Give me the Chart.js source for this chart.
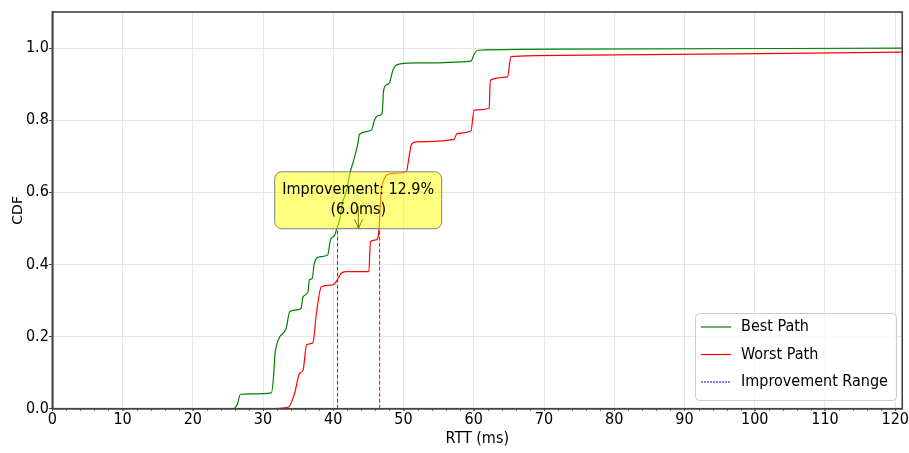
<!DOCTYPE html>
<html>
<head>
<meta charset="utf-8">
<script src="https://cdn.jsdelivr.net/npm/chart.js@4.4.1/dist/chart.umd.min.js"></script>
<style>
html, body { margin: 0; padding: 0; background: #fff; }
#wrap { width: 909px; height: 453px; }
</style>
</head>
<body>
<div id="wrap"><canvas id="grafico"></canvas></div>
<script>
// valores
const bestX = [25.9, 26.3, 26.8, 31.2, 31.5, 31.7, 32.0, 32.4, 33.3, 33.8, 35.4, 35.7, 36.4, 36.6, 37.0, 37.3, 38.05, 39.2, 39.6, 40.2, 40.5, 40.9, 41.3, 41.9, 42.4, 43.0, 43.5, 43.74, 45.4, 45.87, 46.3, 46.96, 47.15, 47.5, 48.0, 48.5, 49.2, 52.3, 59.6, 60.1, 60.6, 72.2, 121];
const bestY = [0, 0.01, 0.04, 0.044, 0.09, 0.15, 0.181, 0.20, 0.223, 0.269, 0.278, 0.31, 0.324, 0.357, 0.361, 0.403, 0.421, 0.426, 0.468, 0.481, 0.50, 0.523, 0.57, 0.605, 0.655, 0.695, 0.736, 0.761, 0.772, 0.80, 0.812, 0.819, 0.879, 0.897, 0.904, 0.939, 0.955, 0.959, 0.964, 0.985, 0.994, 0.997, 1.0];

const worstX = [30.5, 33.6, 34.5, 35.2, 35.7, 36.2, 37.1, 37.6, 38.3, 39.95, 40.4, 41.1, 41.8, 45.06, 45.3, 46.1, 46.5, 46.8, 47.3, 48.2, 50.4, 50.8, 51.1, 51.8, 57.2, 57.6, 59.6, 60.05, 62.2, 62.35, 64.8, 65.3, 72.2, 121];
const worstY = [0, 0.004, 0.043, 0.098, 0.107, 0.177, 0.183, 0.264, 0.338, 0.343, 0.352, 0.375, 0.38, 0.38, 0.463, 0.468, 0.495, 0.597, 0.639, 0.652, 0.657, 0.70, 0.731, 0.74, 0.747, 0.763, 0.77, 0.828, 0.833, 0.911, 0.92, 0.976, 0.98, 0.989];

const xTicks = [0, 10, 20, 30, 40, 50, 60, 70, 80, 90, 100, 110, 120];
const yTicks = [0, 0.2, 0.4, 0.6, 0.8, 1.0];

const cdfLevel = 0.5;
const bestAt50 = 40.6;
const worstAt50 = 46.6;
const mejoraPct = 12.9;
const mejoraMs = 6.0;
const etiquetaX = 43.55;
const etiquetaY = 0.578;

const fuente = "'DejaVu Sans Condensed', 'DejaVu Sans', sans-serif";
Chart.defaults.font.family = fuente;
Chart.defaults.color = '#000';

const puntos = (xs, ys) => xs.map((x, i) => ({ x: x, y: ys[i] }));

const ctx = document.getElementById('grafico').getContext('2d');

// ticks menores del eje x
const ticksMenores = {
  id: 'ticksMenores',
  afterDraw(chart) {
    const { ctx, scales: { x }, chartArea } = chart;
    ctx.save();
    ctx.strokeStyle = '#444';
    ctx.lineWidth = 1;
    for (let v = 0; v <= x.max; v += 2) {
      const px = Math.round(x.getPixelForValue(v)) + 0.5;
      ctx.beginPath();
      ctx.moveTo(px, chartArea.bottom);
      ctx.lineTo(px, chartArea.bottom + 2);
      ctx.stroke();
    }
    ctx.restore();
  }
};

// marco, anotacion y leyenda
const extras = {
  id: 'extras',
  afterDraw(chart) {
    const { ctx, scales: { x, y }, chartArea } = chart;
    ctx.save();
    ctx.strokeStyle = '#444';
    ctx.lineWidth = 1.6;
    ctx.strokeRect(chartArea.left, chartArea.top, chartArea.right - chartArea.left, chartArea.bottom - chartArea.top);

    // flecha
    const cx = x.getPixelForValue(etiquetaX);
    const cy = y.getPixelForValue(etiquetaY);
    const tipX = x.getPixelForValue((bestAt50 + worstAt50) / 2);
    const tipY = y.getPixelForValue(cdfLevel);
    ctx.strokeStyle = '#000';
    ctx.lineWidth = 1;
    ctx.beginPath();
    ctx.moveTo(cx, cy + 6);
    ctx.lineTo(tipX, tipY);
    ctx.moveTo(tipX - 4, tipY - 9);
    ctx.lineTo(tipX, tipY);
    ctx.lineTo(tipX + 4, tipY - 9);
    ctx.stroke();

    // caja
    const w = 167, h = 57;
    ctx.beginPath();
    ctx.roundRect(cx - w / 2, cy - h / 2, w, h, 7);
    ctx.fillStyle = 'rgba(255,255,0,0.5)';
    ctx.fill();
    ctx.strokeStyle = '#808080';
    ctx.lineWidth = 1;
    ctx.stroke();
    ctx.fillStyle = '#000';
    ctx.font = '16px ' + fuente;
    ctx.textAlign = 'center';
    ctx.textBaseline = 'middle';
    ctx.fillText('Improvement: ' + mejoraPct.toFixed(1) + '%', cx, cy - 10);
    ctx.fillText('(' + mejoraMs.toFixed(1) + 'ms)', cx, cy + 10);

    // leyenda
    const items = chart.data.datasets.filter(d => d.enLeyenda);
    const lx = 695, ly = 313, lw = 201, lh = 87;
    ctx.beginPath();
    ctx.roundRect(lx + 0.5, ly + 0.5, lw, lh, 4);
    ctx.fillStyle = 'rgba(255,255,255,0.8)';
    ctx.fill();
    ctx.strokeStyle = '#cccccc';
    ctx.stroke();
    ctx.textAlign = 'left';
    items.forEach((d, i) => {
      const yy = ly + 14 + i * 27.5;
      ctx.strokeStyle = d.borderColor;
      ctx.lineWidth = 1.2;
      ctx.setLineDash(d.borderDash || []);
      ctx.beginPath();
      ctx.moveTo(lx + 6, yy);
      ctx.lineTo(lx + 36, yy);
      ctx.stroke();
      ctx.setLineDash([]);
      ctx.fillStyle = '#000';
      ctx.fillText(d.label, lx + 46, yy);
    });
    ctx.restore();
  }
};

const myChart = new Chart(ctx, {
  type: 'line',
  data: {
    datasets: [
      {
        label: 'Best Path',
        data: puntos(bestX, bestY),
        borderColor: 'green',
        borderWidth: 1.2,
        cubicInterpolationMode: 'monotone',
        enLeyenda: true
      },
      {
        label: 'Worst Path',
        data: puntos(worstX, worstY),
        borderColor: 'red',
        borderWidth: 1.2,
        cubicInterpolationMode: 'monotone',
        enLeyenda: true
      },
      {
        label: 'Improvement Range',
        data: [{ x: bestAt50, y: cdfLevel }, { x: worstAt50, y: cdfLevel }],
        borderColor: 'blue',
        borderWidth: 1,
        borderDash: [2, 1],
        enLeyenda: true
      },
      {
        label: 'best50',
        data: [{ x: bestAt50, y: 0 }, { x: bestAt50, y: cdfLevel }],
        borderColor: 'green',
        borderWidth: 1,
        borderDash: [4, 2]
      },
      {
        label: 'worst50',
        data: [{ x: worstAt50, y: 0 }, { x: worstAt50, y: cdfLevel }],
        borderColor: 'red',
        borderWidth: 1,
        borderDash: [4, 2]
      }
    ]
  },
  options: {
    responsive: true,
    maintainAspectRatio: false,
    animation: false,
    elements: { point: { radius: 0 } },
    layout: { padding: { top: 12, right: 6, left: 0, bottom: 0 } },
    plugins: {
      legend: { display: false },
      tooltip: { enabled: false }
    },
    scales: {
      x: {
        type: 'linear',
        min: 0,
        max: 121,
        afterBuildTicks: s => { s.ticks = xTicks.map(v => ({ value: v })); },
        afterFit: s => { s.height = 44.3; },
        ticks: { font: { size: 16 }, padding: 0, maxRotation: 0 },
        grid: { color: '#e6e6e6', tickColor: '#444', tickLength: 2 },
        border: { display: true, color: '#444', width: 1.6 },
        title: {
          display: true,
          text: 'RTT (ms)',
          font: { size: 16 },
          padding: { top: 0, bottom: 5 }
        }
      },
      y: {
        min: 0,
        max: 1.1,
        afterBuildTicks: s => { s.ticks = yTicks.map(v => ({ value: v })); },
        afterFit: s => { s.width = 52.3; },
        ticks: { font: { size: 16 }, padding: 0, callback: v => v.toFixed(1) },
        grid: { color: '#e6e6e6', tickColor: '#444', tickLength: 3.5 },
        border: { display: true, color: '#444', width: 1.6 },
        title: {
          display: true,
          text: 'CDF',
          font: { size: 14, family: "'DejaVu Sans', sans-serif" },
          padding: { top: 10, bottom: 0 }
        }
      }
    }
  },
  plugins: [ticksMenores, extras]
});
</script>
</body>
</html>
